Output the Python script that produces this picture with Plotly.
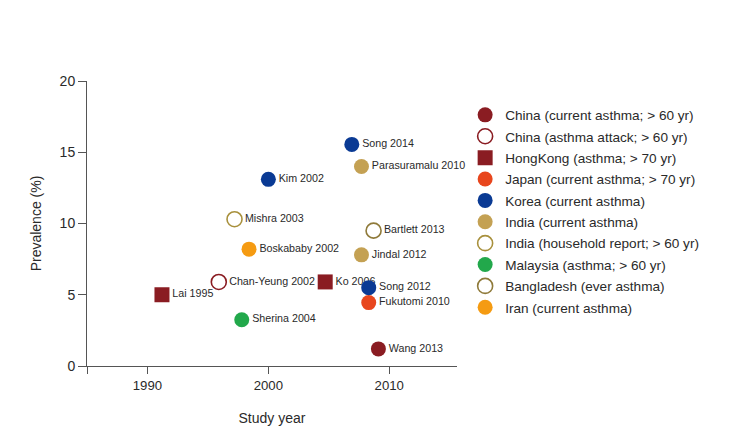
import plotly.graph_objects as go

# ---- data ----
series_names = [
    "China (current asthma; > 60 yr)",
    "China (asthma attack; > 60 yr)",
    "HongKong (asthma; > 70 yr)",
    "Japan (current asthma; > 70 yr)",
    "Korea (current asthma)",
    "India (current asthma)",
    "India (household report; > 60 yr)",
    "Malaysia (asthma; > 60 yr)",
    "Bangladesh (ever asthma)",
    "Iran (current asthma)",
]
series_years = [
    [2009.1],
    [1995.9],
    [1991.2, 2004.7],
    [2008.3],
    [2000.0, 2008.3, 2006.9],
    [2007.7, 2007.7],
    [1997.2],
    [1997.8],
    [2008.7],
    [1998.4],
]
series_prev = [
    [1.2],
    [5.9],
    [5.0, 5.9],
    [4.45],
    [13.1, 5.5, 15.55],
    [14.0, 7.8],
    [10.3],
    [3.25],
    [9.5],
    [8.2],
]
series_labels = [
    ["Wang 2013"],
    ["Chan-Yeung 2002"],
    ["Lai 1995", "Ko 2006"],
    ["Fukutomi 2010"],
    ["Kim 2002", "Song 2012", "Song 2014"],
    ["Parasuramalu 2010", "Jindal 2012"],
    ["Mishra 2003"],
    ["Sherina 2004"],
    ["Bartlett 2013"],
    ["Boskababy 2002"],
]
x_tickvals = [1985, 1990, 2000, 2010]
x_ticktext = ["", "1990", "2000", "2010"]
y_tickvals = [0, 5, 10, 15, 20]

# ---- styles ----
colors = ["#8a1c22", "#8a1c22", "#8a1c22", "#e8461d", "#0a3a94",
          "#c4a153", "#a8903c", "#22a84b", "#8f7a3a", "#f59b12"]
symbols = ["circle", "circle-open", "square", "circle", "circle",
           "circle", "circle-open", "circle", "circle-open", "circle"]

FONT = "Liberation Sans, Arial, sans-serif"
TXT = "#2a2a2a"
AX = "#555555"

fig = go.Figure()
for i, (name, xs, ys, labs, c, s) in enumerate(zip(series_names, series_years, series_prev,
                                                   series_labels, colors, symbols)):
    is_open = s.endswith("open")
    fig.add_trace(go.Scatter(
        x=xs, y=ys, text=labs, name=name, legendgroup=f"g{i}",
        mode="markers+text", textposition="middle right",
        textfont=dict(family=FONT, size=10.7, color=TXT),
        marker=dict(symbol=s, size=15, color=c,
                    line=dict(color=c, width=1.6 if is_open else 0)),
        cliponaxis=False,
    ))

# page body has an 8px margin, compensate in the figure margins
fig.update_layout(
    width=751, height=437,
    margin=dict(l=79, r=302, t=73, b=79, autoexpand=False),
    plot_bgcolor="white", paper_bgcolor="white",
    font=dict(family=FONT, size=13, color=TXT),
    showlegend=True,
    legend=dict(x=1.022, y=0.935, xanchor="left", yanchor="top",
                font=dict(family=FONT, size=13.6, color=TXT),
                tracegroupgap=0.7, itemwidth=30, bgcolor="rgba(0,0,0,0)"),
    xaxis=dict(range=[1985, 2015.6], tickvals=x_tickvals, ticktext=x_ticktext,
               showgrid=False, zeroline=False, showline=True, linecolor=AX,
               linewidth=1, ticks="outside", ticklen=7, tickcolor=AX,
               tickfont=dict(family=FONT, size=13.2, color=TXT),
               title=dict(text="Study year", font=dict(family=FONT, size=14, color=TXT),
                          standoff=21)),
    yaxis=dict(range=[0, 20], tickvals=y_tickvals,
               showgrid=False, zeroline=False, showline=True, linecolor=AX,
               linewidth=1, ticks="outside", ticklen=8, tickcolor=AX,
               tickfont=dict(family=FONT, size=14, color=TXT),
               title=dict(text="Prevalence (%)", font=dict(family=FONT, size=14, color=TXT),
                          standoff=14)),
)

fig.write_html("out.html")
